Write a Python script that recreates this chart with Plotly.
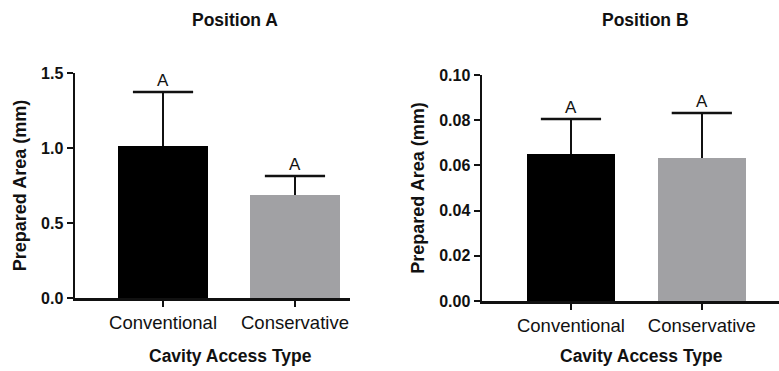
import plotly.graph_objects as go

categories = ["Conventional", "Conservative"]
pos_a_means = [1.013, 0.687]
pos_a_sd = [0.36, 0.126]
pos_b_means = [0.0652, 0.0633]
pos_b_sd = [0.0153, 0.0199]
group_letters_a = ["A", "A"]
group_letters_b = ["A", "A"]
colors = ["#000000", "#a1a1a4"]

W, H = 779, 371
fig = go.Figure()

def add_panel(means, sds, letters, xa, ya):
    xs = [0, 1]
    fig.add_trace(go.Bar(
        x=xs, y=means, width=0.675, marker=dict(color=colors, line=dict(width=0)),
        error_y=dict(type="data", array=sds, arrayminus=[0, 0], symmetric=False,
                     color="#111111", thickness=2.4, width=0),
        xaxis=xa, yaxis=ya, showlegend=False, hoverinfo="skip"))
    tops = [m + s for m, s in zip(means, sds)]
    fig.add_trace(go.Scatter(
        x=xs, y=tops, mode="markers",
        marker=dict(symbol="line-ew", size=43, line=dict(color="#111111", width=2.4)),
        xaxis=xa, yaxis=ya, showlegend=False, hoverinfo="skip", cliponaxis=False))
    for x, t, tx in zip(xs, tops, letters):
        fig.add_annotation(x=x, y=t, xref=xa, yref=ya, text=tx, showarrow=False,
                           yanchor="bottom", yshift=0,
                           font=dict(family="Liberation Sans, Arial", size=17, color="#111"))

add_panel(pos_a_means, pos_a_sd, group_letters_a, "x", "y")
add_panel(pos_b_means, pos_b_sd, group_letters_b, "x2", "y2")

axis_common = dict(showline=True, linecolor="#111", linewidth=2.5, ticks="outside",
                   tickcolor="#111", tickwidth=2, ticklen=6, showgrid=False, zeroline=False,
                   automargin=False)

tickfont_cat = dict(family="Liberation Sans Narrow, Arial Narrow, Liberation Sans", size=18.5, color="#111")
tickfont_num = dict(family="Liberation Sans, Arial", size=16, color="#111", weight="bold")
title_font = dict(family="Liberation Sans Narrow, Liberation Sans", size=17.5, color="#111", weight="bold")
ytitle_font = dict(family="Liberation Sans, Arial", size=18, color="#111", weight="bold")

fig.update_layout(
    width=W, height=H, margin=dict(l=0, r=0, t=0, b=0, autoexpand=False),
    paper_bgcolor="white", plot_bgcolor="white", bargap=0,
    xaxis=dict(domain=[75 / W, 350 / W], range=[-0.667, 1.417], tickvals=[0, 1],
               ticktext=categories, tickfont=tickfont_cat, anchor="y", **axis_common),
    yaxis=dict(domain=[1 - 298 / H, 1 - 73 / H], range=[0, 1.5], tickvals=[0, 0.5, 1.0, 1.5],
               ticktext=["0.0", "0.5", "1.0", "1.5"], tickfont=tickfont_num, anchor="x",
               title=dict(text="Prepared Area (mm)", font=ytitle_font, standoff=10),
               **axis_common),
    xaxis2=dict(domain=[482 / W, 1.0], range=[-0.68, 1.59], tickvals=[0, 1],
                ticktext=categories, tickfont=tickfont_cat, anchor="y2", **axis_common),
    yaxis2=dict(domain=[1 - 301 / H, 1 - 75 / H], range=[0, 0.10],
                tickvals=[0, 0.02, 0.04, 0.06, 0.08, 0.10],
                ticktext=["0.00", "0.02", "0.04", "0.06", "0.08", "0.10"], tickfont=tickfont_num, anchor="x2",
                title=dict(text="Prepared Area (mm)", font=ytitle_font, standoff=10),
                **axis_common),
)

for txt, x, y in [("Position A", 235, 20), ("Position B", 645, 20),
                  ("Cavity Access Type", 230, 356), ("Cavity Access Type", 641, 356)]:
    fig.add_annotation(x=x / W, y=1 - y / H, xref="paper", yref="paper", text=txt,
                       showarrow=False, xanchor="center", yanchor="middle", font=title_font)

fig.write_html("out.html", config={"displayModeBar": False, "staticPlot": True},
               post_script="document.body.style.margin='0';document.body.style.overflow='hidden';")
